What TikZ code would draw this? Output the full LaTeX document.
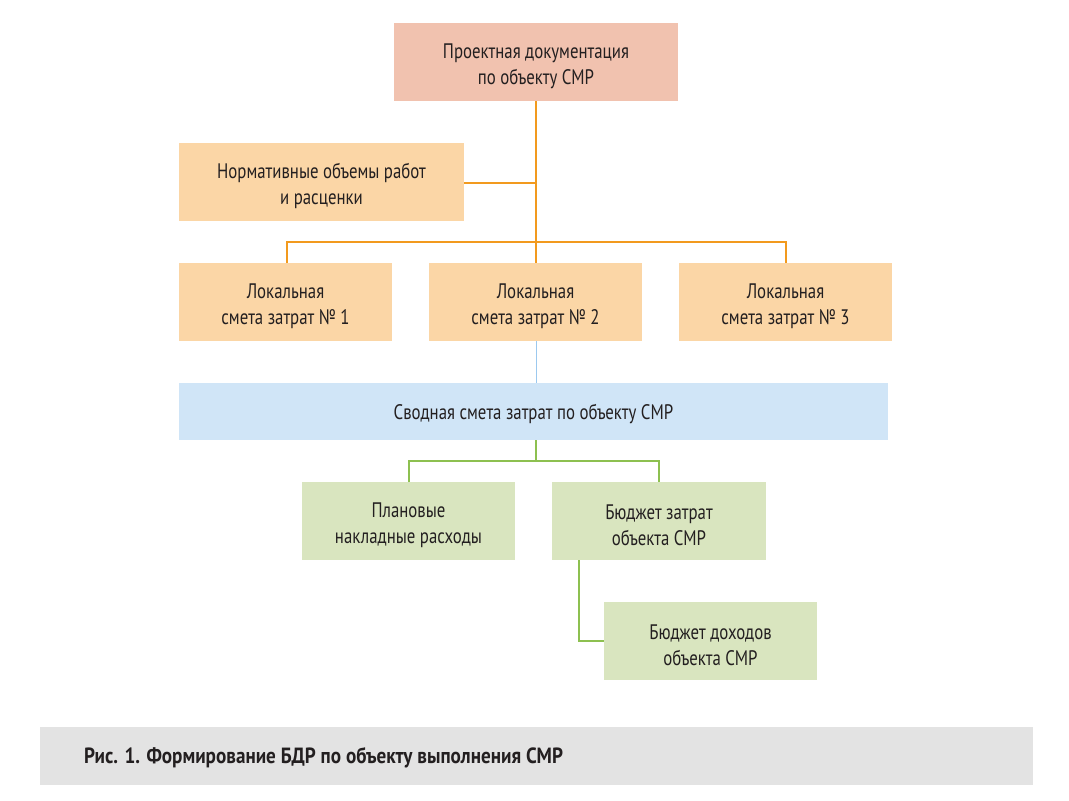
\documentclass[tikz,border=0pt]{standalone}
\usepackage{fontspec}
\setmainfont{PT Sans}[FakeStretch=0.80]
\newfontfamily\capfont{PT Sans}[FakeStretch=0.87]
\definecolor{salmon}{HTML}{F1C2AF}
\definecolor{peach}{HTML}{FBD6A6}
\definecolor{lblue}{HTML}{D0E5F7}
\definecolor{lgreen}{HTML}{D9E5BF}
\definecolor{orline}{HTML}{F29A1E}
\definecolor{blline}{HTML}{9CC9EF}
\definecolor{grline}{HTML}{8DC050}
\definecolor{capbg}{HTML}{E3E3E3}
\definecolor{txt}{HTML}{231F20}
\begin{document}
\begin{tikzpicture}[x=1pt,y=-1pt,
  box/.style={inner sep=0pt, align=center, text=txt, font=\fontsize{21}{26}\selectfont},
  oline/.style={draw=orline, line width=1.3pt},
  bline/.style={draw=blline, line width=1pt},
  gline/.style={draw=grline, line width=1.3pt}]
\useasboundingbox (0,0) rectangle (1069,801);
\fill[white] (0,0) rectangle (1069,801);
% boxes
\fill[salmon] (394,23) rectangle (678,101);
\node[box] (top) at (536,66) {Проектная документация\\по объекту СМР};
\fill[peach] (179,143) rectangle (464,221);
\node[box] (norm) at (321.5,186) {Нормативные объемы работ\\и расценки};
\fill[peach] (179,263) rectangle (392,341);
\node[box] (l1) at (285.5,306) {Локальная\\смета затрат № 1};
\fill[peach] (429,263) rectangle (642,341);
\node[box] (l2) at (535.5,306) {Локальная\\смета затрат № 2};
\fill[peach] (679,263) rectangle (892,341);
\node[box] (l3) at (785.5,306) {Локальная\\смета затрат № 3};
\fill[lblue] (179,383) rectangle (888,440);
\node[box] (sv) at (533.5,414) {Сводная смета затрат по объекту СМР};
\fill[lgreen] (302,482) rectangle (515,560);
\node[box] (pl) at (408.5,525) {Плановые\\накладные расходы};
\fill[lgreen] (552,482) rectangle (766,560);
\node[box] (bz) at (659,525) {Бюджет затрат\\объекта СМР};
\fill[lgreen] (604,602) rectangle (817,680);
\node[box] (bd) at (710.5,645) {Бюджет доходов\\объекта СМР};
% coordinates for connectors
\coordinate (topb) at (536,101);
\coordinate (normr) at (464,183);
\coordinate (j1) at (536,183);
\coordinate (h1) at (287,242);
\coordinate (h3) at (786,242);
\coordinate (l1t) at (287,263);
\coordinate (l2t) at (536,263);
\coordinate (l3t) at (786,263);
\coordinate (l2b) at (536,341);
\coordinate (svt) at (536,383);
\coordinate (svb) at (536,440);
\coordinate (gj) at (536,461);
\coordinate (g1) at (409,461);
\coordinate (g2) at (659,461);
\coordinate (plt) at (409,482);
\coordinate (bzt) at (659,482);
\coordinate (bzb) at (579,560);
\coordinate (gc) at (579,641);
\coordinate (bdl) at (604,641);
\draw[oline] (topb) -- (l2t);
\draw[oline] (normr) -- (j1);
\draw[oline] (l1t) -- (h1) -- (h3) -- (l3t);
\draw[bline] (l2b) -- (svt);
\draw[gline] (svb) -- (gj);
\draw[gline] (plt) -- (g1) -- (g2) -- (bzt);
\draw[gline] (bzb) -- (gc) -- (bdl);
% caption
\fill[capbg] (40,727) rectangle (1033,785);
\node[anchor=west, inner sep=0pt, text=txt, font=\fontsize{22}{26}\selectfont\capfont\bfseries] (cap) at (84,758) {Рис. 1. Формирование БДР по объекту выполнения СМР};
\end{tikzpicture}
\end{document}
